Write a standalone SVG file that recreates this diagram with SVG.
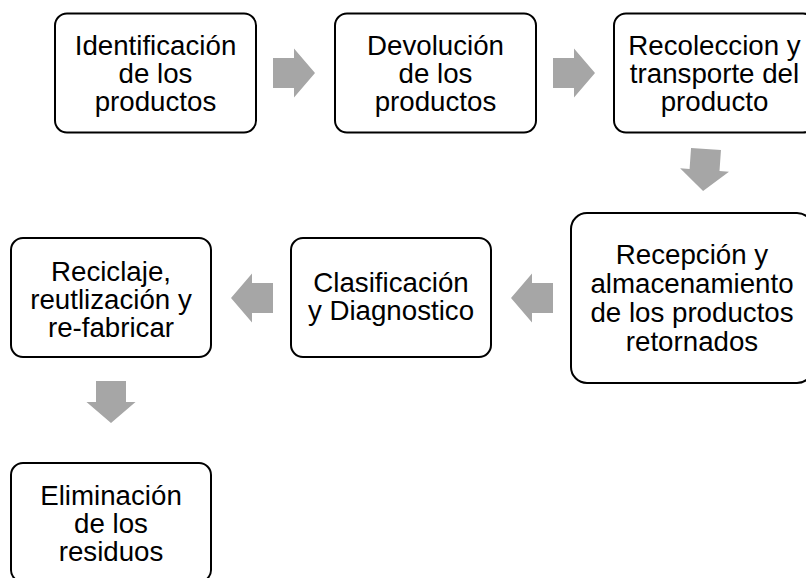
<svg xmlns="http://www.w3.org/2000/svg" width="806" height="578" viewBox="0 0 806 578">
<style>
.box{fill:#fff;stroke:#000;stroke-width:2}
.t{font-family:"Liberation Sans",Arial,sans-serif;font-size:27.7px;fill:#000;text-anchor:middle}
.arr{fill:#a6a6a6}
</style>
<defs>
<path id="ar" class="arr" d="M0,-15 H21 V-24.5 L42,0 L21,24.5 V15 H0 Z"/>
</defs>
<rect width="806" height="578" fill="#fff"/>
<g id="connectors">
<use href="#ar" transform="translate(273,73)"/>
<use href="#ar" transform="translate(553,73)"/>
<use href="#ar" transform="translate(706,149) rotate(94)"/>
<use href="#ar" transform="translate(553,298) rotate(180)"/>
<use href="#ar" transform="translate(273,298) rotate(180)"/>
<use href="#ar" transform="translate(111,381) rotate(90)"/>
</g>
<g id="n1">
<rect class="box" x="55" y="13.5" width="201" height="119" rx="12"/>
<text class="t" x="155.5"><tspan x="155.5" y="55">Identificación</tspan><tspan x="155.5" y="83">de los</tspan><tspan x="155.5" y="111">productos</tspan></text>
</g>
<g id="n2">
<rect class="box" x="335" y="13.5" width="201" height="119" rx="12"/>
<text class="t"><tspan x="435.5" y="55">Devolución</tspan><tspan x="435.5" y="83">de los</tspan><tspan x="435.5" y="111">productos</tspan></text>
</g>
<g id="n3">
<rect class="box" x="614" y="13.5" width="201" height="119" rx="12"/>
<text class="t"><tspan x="714.5" y="55">Recoleccion y</tspan><tspan x="714.5" y="83">transporte del</tspan><tspan x="714.5" y="111">producto</tspan></text>
</g>
<g id="n4">
<rect class="box" x="571" y="213" width="242" height="170" rx="16"/>
<text class="t"><tspan x="692" y="264">Recepción y</tspan><tspan x="692" y="293">almacenamiento</tspan><tspan x="692" y="322">de los productos</tspan><tspan x="692" y="351">retornados</tspan></text>
</g>
<g id="n5">
<rect class="box" x="291" y="238" width="200" height="119" rx="12"/>
<text class="t"><tspan x="391" y="292">Clasificación</tspan><tspan x="391" y="320">y Diagnostico</tspan></text>
</g>
<g id="n6">
<rect class="box" x="11" y="238" width="200" height="119" rx="12"/>
<text class="t"><tspan x="111" y="281">Reciclaje,</tspan><tspan x="111" y="309">reutlización y</tspan><tspan x="111" y="337">re-fabricar</tspan></text>
</g>
<g id="n7">
<rect class="box" x="11" y="463" width="200" height="119" rx="12"/>
<text class="t"><tspan x="111" y="505">Eliminación</tspan><tspan x="111" y="533">de los</tspan><tspan x="111" y="561">residuos</tspan></text>
</g>
</svg>
